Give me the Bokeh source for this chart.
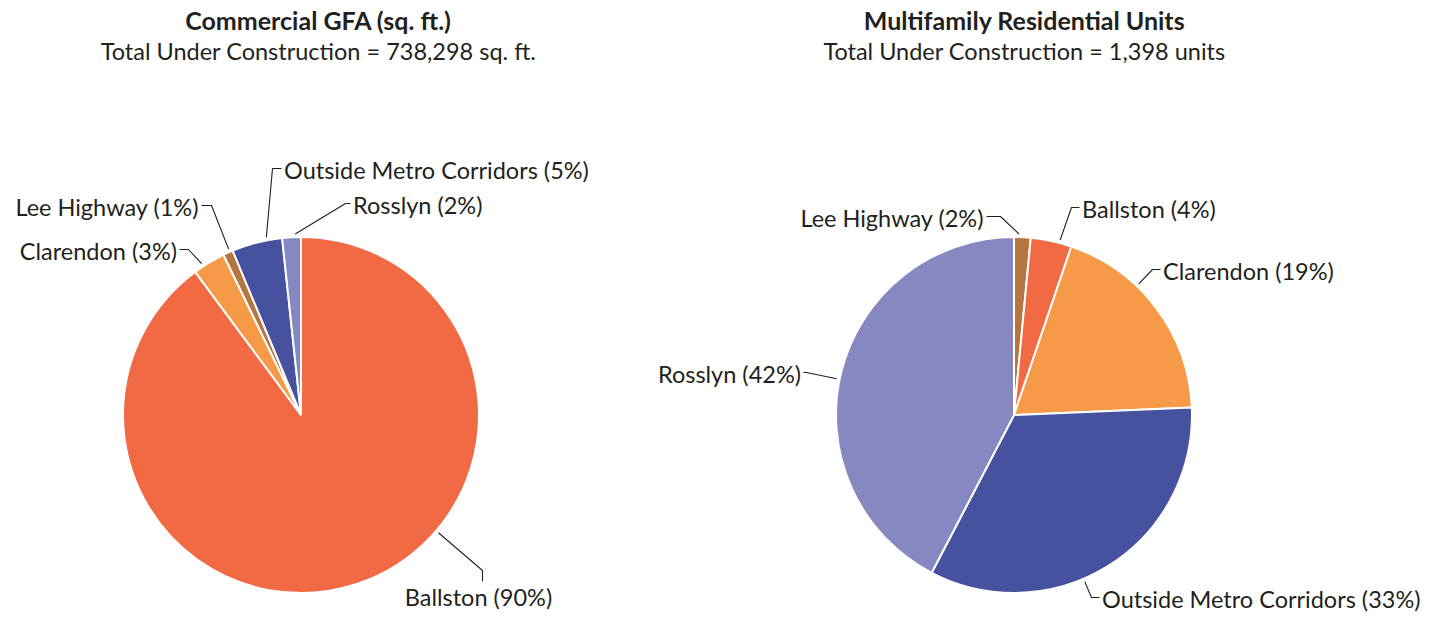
import math
import numpy as np
from bokeh.plotting import figure
from bokeh.models import Range1d, ColumnDataSource
from bokeh.core.properties import value
from bokeh.embed import file_html
from bokeh.resources import INLINE

# ---------------- data ----------------
commercial_title = "Commercial GFA (sq. ft.)"
commercial_subtitle = "Total Under Construction = 738,298 sq. ft."
commercial_categories = ["Ballston", "Clarendon", "Lee Highway", "Outside Metro Corridors", "Rosslyn"]
commercial_sqft = [663500, 21800, 6700, 33800, 12498]

residential_title = "Multifamily Residential Units"
residential_subtitle = "Total Under Construction = 1,398 units"
residential_categories = ["Lee Highway", "Ballston", "Clarendon", "Outside Metro Corridors", "Rosslyn"]
residential_units = [21, 52, 267, 466, 592]

colors = {
    "Ballston": "#F26A43",
    "Clarendon": "#F79A48",
    "Lee Highway": "#B5763F",
    "Outside Metro Corridors": "#4652A0",
    "Rosslyn": "#8788C1",
}

# ---------------- layout ----------------
FONT = "Lato"
TXT = "#231F20"
LABEL_SIZE = "23.5px"
R = 178

# elbow x, elbow y, side, tick length
left_layout = {
    "Ballston": (482, 570, "below", 11),
    "Clarendon": (188, 249, "left", 9),
    "Lee Highway": (211, 205, "left", 10),
    "Outside Metro Corridors": (272, 168, "right", 9),
    "Rosslyn": (345, 203, "right", 5),
}
right_layout = {
    "Lee Highway": (1000, 216, "left", 14),
    "Ballston": (1071, 207, "right", 8),
    "Clarendon": (1152, 269, "right", 8),
    "Outside Metro Corridors": (1091, 597, "right", 8),
    "Rosslyn": (806, 372, "left", 3),
}

W, H = 1434, 612
p = figure(width=W, height=H, output_backend="svg", toolbar_location=None,
           x_range=Range1d(0, W), y_range=Range1d(-H, 0),
           min_border=0, tools="")
p.axis.visible = False
p.grid.visible = False
p.outline_line_color = None
p.background_fill_color = "white"
p.border_fill_color = "white"


def add_text(x, y, s, align="left", baseline="middle", size=LABEL_SIZE, style="normal", font=FONT):
    p.text(x=[x], y=[-y], text=[s], text_font=value(font), text_font_size=size,
           text_font_style=style, text_color=TXT, text_align=align, text_baseline=baseline)


def draw_pie(cx, cy, cats, vals, layout, title, subtitle, tx):
    total = float(sum(vals))
    fr = [v / total for v in vals]
    cum = np.concatenate([[0.0], np.cumsum(fr)])
    start = [math.pi / 2 - 2 * math.pi * c for c in cum[:-1]]
    end = [math.pi / 2 - 2 * math.pi * c for c in cum[1:]]
    src = ColumnDataSource(dict(start=start, end=end, color=[colors[c] for c in cats]))
    p.wedge(x=cx, y=-cy, radius=R, start_angle="start", end_angle="end", direction="clock",
            fill_color="color", line_color="white", line_width=2, source=src)

    xs, ys = [], []
    for i, cat in enumerate(cats):
        a0, a1 = 360 * cum[i], 360 * cum[i + 1]
        w = a1 - a0
        mid = (a0 + a1) / 2
        ex, ey, side, tick = layout[cat]
        d = math.degrees(math.atan2(ex - cx, cy - ey))
        while d - mid > 180:
            d -= 360
        while d - mid < -180:
            d += 360
        th = math.radians(min(max(d, a0 + 0.3 * w), a1 - 0.3 * w))
        sx = cx + (R + 3) * math.sin(th)
        sy = cy - (R + 3) * math.cos(th)
        label = f"{cat} ({round(100 * fr[i])}%)"
        if side == "below":
            px, py = ex, ey + tick
            add_text(ex - 4, ey + 26, label, align="center")
        elif side == "left":
            px, py = ex - tick, ey
            add_text(px - 2.5, ey + 1, label, align="right")
        else:
            px, py = ex + tick, ey
            add_text(px + 2.5, ey + 1, label, align="left")
        xs.append([sx, ex, px])
        ys.append([-sy, -ey, -py])
    p.multi_line(xs=xs, ys=ys, line_color="#231F20", line_width=1.1)

    add_text(tx, 19, title, align="center", size="25px", style="bold")
    add_text(tx, 50, subtitle, align="center", size="23.5px")


draw_pie(300.5, 414.5, commercial_categories, commercial_sqft, left_layout,
         commercial_title, commercial_subtitle, 318)
draw_pie(1013.5, 414.5, residential_categories, residential_units, right_layout,
         residential_title, residential_subtitle, 1024)

open("out.html", "w").write(file_html(p, INLINE))
